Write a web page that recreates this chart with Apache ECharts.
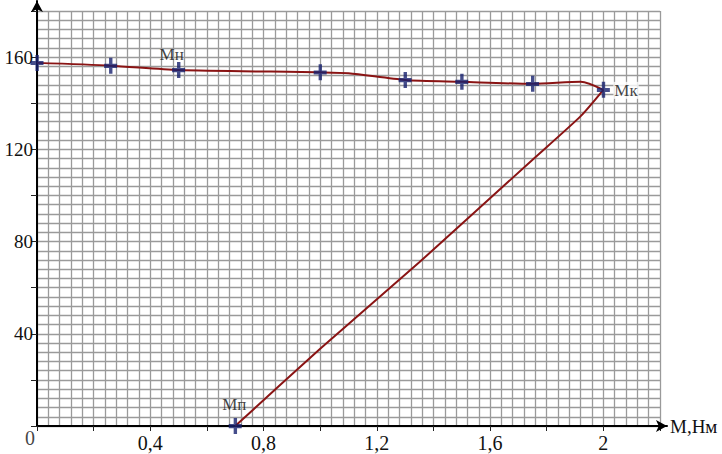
<!DOCTYPE html>
<html>
<head>
<meta charset="utf-8">
<script src="https://cdn.jsdelivr.net/npm/echarts@6/dist/echarts.min.js"></script>
<style>
html,body{margin:0;padding:0;background:#fff;}
#c{width:722px;height:454px;}
</style>
</head>
<body>
<div id="c"></div>
<script>
// Upper branch (measured points, marked with "+")
var upperM = [0, 0.26, 0.5, 1.0, 1.3, 1.5, 1.75, 2.0];
var upperN = [157.5, 156.3, 154.4, 153.4, 150.1, 149.3, 148.4, 145.8];
// Upper curve as drawn (includes the small bump before Mк)
var upperCurveM = [0, 0.26, 0.5, 1.0, 1.1, 1.3, 1.5, 1.75, 1.92, 2.0];
var upperCurveN = [157.5, 156.3, 154.4, 153.4, 153.0, 150.1, 149.3, 148.4, 149.3, 145.8];
// Lower branch (from Mп to Mк)
var lowerM = [0.7, 1.0, 1.35, 1.75, 1.92, 2.0];
var lowerN = [0, 33.5, 71.0, 115.5, 134.4, 145.8];
// Annotated points
var noteNames = ['Мн', 'Мк', 'Мп', '0'];
var noteM = [0.5, 2.0, 0.7, 0];
var noteN = [154.4, 145.8, 0, 0];
var xAxisName = 'M,Нм';
var xLabelEvery = 0.4;   // x tick labels at multiples of 0.4
var yLabelEvery = 40;    // y tick labels at multiples of 40

var FONT = '"Liberation Serif", "DejaVu Serif", serif';
var LINE = '#8a1414';
var MARK = '#16206e';
var GRIDC = '#9a9a9a';
var plus = 'path://M3.8,0h2.6v3.8h3.6v2.6h-3.6v3.6h-2.6v-3.6h-3.8v-2.6h3.8z';

function zip(a, b) { return a.map(function (v, i) { return [v, b[i]]; }); }

var chart = echarts.init(document.getElementById('c'), null, {renderer: 'svg'});
chart.setOption({
  backgroundColor: '#fff',
  animation: false,
  grid: [
    {left: 37, right: 62, top: 11, bottom: 28},
    {left: 37, right: 55, top: 1, bottom: 28}
  ],
  xAxis: [
    {
      type: 'value', gridIndex: 0, min: 0, max: 2.2, interval: 0.2,
      axisLine: {show: false},
      axisTick: {show: true, length: 5, lineStyle: {color: '#222', width: 1}},
      axisLabel: {
        margin: 7, color: '#111', fontFamily: FONT, fontSize: 20,
        formatter: function (v) {
          var k = Math.round(v * 10);
          if (k === 0) return '';
          if (k % Math.round(xLabelEvery * 10) !== 0) return '';
          return (k / 10).toString().replace('.', ',');
        }
      },
      splitLine: {show: true, lineStyle: {color: GRIDC, width: 1.3}},
      minorTick: {show: false, splitNumber: 5},
      minorSplitLine: {show: true, lineStyle: {color: GRIDC, width: 1.3}}
    },
    {
      type: 'value', gridIndex: 1, min: 0, max: 1,
      name: xAxisName, nameLocation: 'end', nameGap: 3,
      nameTextStyle: {fontFamily: FONT, fontSize: 19, color: '#111', verticalAlign: 'middle'},
      axisLine: {show: true, symbol: ['none', 'arrow'], symbolSize: [9, 11], lineStyle: {color: '#000', width: 2}},
      axisTick: {show: false}, axisLabel: {show: false}, splitLine: {show: false}
    }
  ],
  yAxis: [
    {
      type: 'value', gridIndex: 0, min: 0, max: 180, interval: 20,
      axisLine: {show: false},
      axisTick: {show: true, length: 6, lineStyle: {color: '#222', width: 1}},
      axisLabel: {
        margin: 4, color: '#111', fontFamily: FONT, fontSize: 19,
        formatter: function (v) {
          var k = Math.round(v);
          return (k > 0 && k % yLabelEvery === 0) ? String(k) : '';
        }
      },
      splitLine: {show: true, lineStyle: {color: GRIDC, width: 1.3}},
      minorTick: {show: false, splitNumber: 5},
      minorSplitLine: {show: true, lineStyle: {color: GRIDC, width: 1.3}}
    },
    {
      type: 'value', gridIndex: 1, min: 0, max: 1,
      axisLine: {show: true, symbol: ['none', 'arrow'], symbolSize: [9, 11], lineStyle: {color: '#000', width: 2}},
      axisTick: {show: false}, axisLabel: {show: false}, splitLine: {show: false}
    }
  ],
  series: [
    {
      type: 'line', xAxisIndex: 0, yAxisIndex: 0, data: zip(upperCurveM, upperCurveN),
      smooth: 0.25, symbol: 'none', clip: false,
      lineStyle: {color: LINE, width: 2}, z: 3
    },
    {
      type: 'line', xAxisIndex: 0, yAxisIndex: 0, data: zip(lowerM, lowerN),
      smooth: 0.2, symbol: 'none', clip: false,
      lineStyle: {color: LINE, width: 2}, z: 3
    },
    {
      type: 'scatter', xAxisIndex: 0, yAxisIndex: 0, data: zip(upperM, upperN),
      symbol: plus, symbolSize: [13, 16], clip: false,
      itemStyle: {color: MARK}, z: 20
    },
    {
      type: 'scatter', xAxisIndex: 0, yAxisIndex: 0, clip: true,
      data: [[noteM[2], noteN[2]]],
      symbol: plus, symbolSize: [13, 16],
      itemStyle: {color: MARK}, z: 20
    },
    {
      type: 'scatter', xAxisIndex: 0, yAxisIndex: 0, clip: false,
      symbolSize: 0, z: 21,
      data: noteNames.map(function (n, i) {
        var pos = [[-20, -24], [10, -8], [-14, -30], [-13, 2]][i];
        return {
          value: [noteM[i], noteN[i]], name: n,
          label: {show: true, formatter: n, position: pos,
            fontFamily: FONT, fontSize: i === 3 ? 20 : 17, color: '#111',
            backgroundColor: i === 1 ? '#fff' : 'transparent', padding: [0, 1, 0, 1]}
        };
      })
    }
  ]
});
</script>
</body>
</html>
